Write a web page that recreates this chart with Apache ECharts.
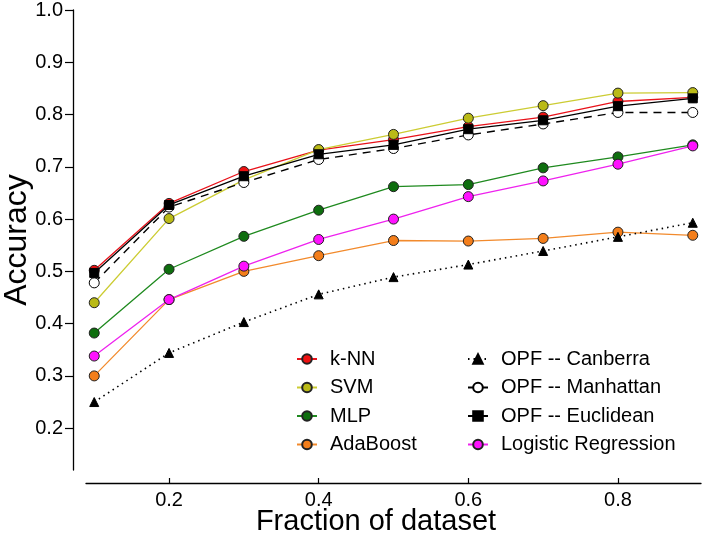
<!DOCTYPE html>
<html>
<head>
<meta charset="utf-8">
<script src="https://cdn.jsdelivr.net/npm/echarts@6/dist/echarts.min.js"></script>
<style>html,body{margin:0;padding:0;background:#fff;}#c{width:704px;height:536px;}</style>
</head>
<body>
<div id="c"></div>
<script>
const fractions = [0.1, 0.2, 0.3, 0.4, 0.5, 0.6, 0.7, 0.8, 0.9];
const knn       = [0.502, 0.630, 0.691, 0.732, 0.752, 0.777, 0.795, 0.825, 0.833];
const svm       = [0.440, 0.601, 0.675, 0.733, 0.762, 0.793, 0.817, 0.841, 0.842];
const mlp       = [0.382, 0.504, 0.567, 0.617, 0.662, 0.666, 0.698, 0.719, 0.742];
const adaboost  = [0.300, 0.446, 0.500, 0.530, 0.559, 0.558, 0.563, 0.575, 0.569];
const canberra  = [0.250, 0.344, 0.403, 0.456, 0.489, 0.513, 0.539, 0.566, 0.593];
const manhattan = [0.478, 0.623, 0.670, 0.714, 0.735, 0.761, 0.782, 0.804, 0.804];
const euclidean = [0.497, 0.627, 0.682, 0.724, 0.742, 0.772, 0.789, 0.816, 0.831];
const logreg    = [0.338, 0.446, 0.510, 0.561, 0.600, 0.643, 0.673, 0.705, 0.740];
const yTicks = [0.2, 0.3, 0.4, 0.5, 0.6, 0.7, 0.8, 0.9, 1.0];
const xTicks = [0.2, 0.4, 0.6, 0.8];

const pairs = arr => arr.map((v, i) => [fractions[i], v]);
const FONT = '"Liberation Sans", Arial, sans-serif';

function mk(name, data, lineColor, fill, symbol, size, lineType, border) {
  return {
    name: name, type: 'line', data: pairs(data),
    symbol: symbol, symbolSize: size,
    lineStyle: { color: lineColor, width: 1.3, type: lineType || 'solid' },
    itemStyle: { color: fill, borderColor: border || '#222', borderWidth: 1 },
    emphasis: { disabled: true }, animation: false
  };
}

const series = [
  mk('k-NN', knn, '#e8121a', '#ee1111', 'circle', 10),
  mk('SVM', svm, '#cccc33', '#baba16', 'circle', 10),
  mk('MLP', mlp, '#1f8a1f', '#0e6e0e', 'circle', 10),
  mk('AdaBoost', adaboost, '#f28a2c', '#f47e1a', 'circle', 10),
  mk('OPF -- Canberra', canberra, '#000', '#000', 'triangle', 9, [1.5, 4], '#000'),
  mk('OPF -- Manhattan', manhattan, '#000', '#fff', 'circle', 10, [8, 6], '#000'),
  mk('OPF -- Euclidean', euclidean, '#000', '#000', 'rect', 9, 'solid', '#000'),
  mk('Logistic Regression', logreg, '#ee22ee', '#ff11ff', 'circle', 10)
];
series[4].lineStyle.width = 1.6;
series[5].lineStyle.width = 1.4;

const legendBase = {
  orient: 'vertical', itemWidth: 20, itemHeight: 12, itemGap: 8.5, padding: 0,
  textStyle: { fontFamily: FONT, fontSize: 20, color: '#000', lineHeight: 20, padding: [0, 0, 0, 8] },
  inactiveColor: '#000'
};

const chart = echarts.init(document.getElementById('c'), null, { renderer: 'canvas' });
chart.setOption({
  backgroundColor: '#fff',
  animation: false,
  grid: { left: 86, right: 3, top: 10, bottom: 66, containLabel: false, outerBoundsMode: 'none' },
  legend: [
    Object.assign({}, legendBase, { left: 296, top: 349, data: ['k-NN', 'SVM', 'MLP', 'AdaBoost'] }),
    Object.assign({}, legendBase, { left: 467, top: 349, data: ['OPF -- Canberra', 'OPF -- Manhattan', 'OPF -- Euclidean', 'Logistic Regression'] })
  ],
  xAxis: {
    type: 'value', min: 0.089, max: 0.911, offset: 13,
    splitLine: { show: false },
    axisLine: { lineStyle: { color: '#000', width: 1.3 } },
    axisTick: { inside: true, length: 5, customValues: xTicks, lineStyle: { color: '#000', width: 1.2 } },
    axisLabel: { customValues: xTicks, formatter: v => v.toFixed(1), fontFamily: FONT, fontSize: 20, color: '#000', margin: 7 },
    name: 'Fraction of dataset', nameLocation: 'middle', nameGap: 24, nameMoveOverlap: false,
    nameTextStyle: { fontFamily: FONT, fontSize: 29, color: '#000', padding: [0, 35, 0, 0], verticalAlign: 'top' }
  },
  yAxis: {
    type: 'value', min: 0.12, max: 1.0, offset: 13,
    splitLine: { show: false },
    axisLine: { show: true, lineStyle: { color: '#000', width: 1.3 } },
    axisTick: { show: true, inside: false, length: 8, customValues: yTicks, lineStyle: { color: '#000', width: 1.2 } },
    axisLabel: { customValues: yTicks, formatter: v => v.toFixed(1), fontFamily: FONT, fontSize: 20, color: '#000', margin: 10 },
    name: 'Accuracy', nameLocation: 'middle', nameGap: 40, nameRotate: 90, nameMoveOverlap: false,
    nameTextStyle: { fontFamily: FONT, fontSize: 32, color: '#000' }
  },
  series: series
});
</script>
</body>
</html>
